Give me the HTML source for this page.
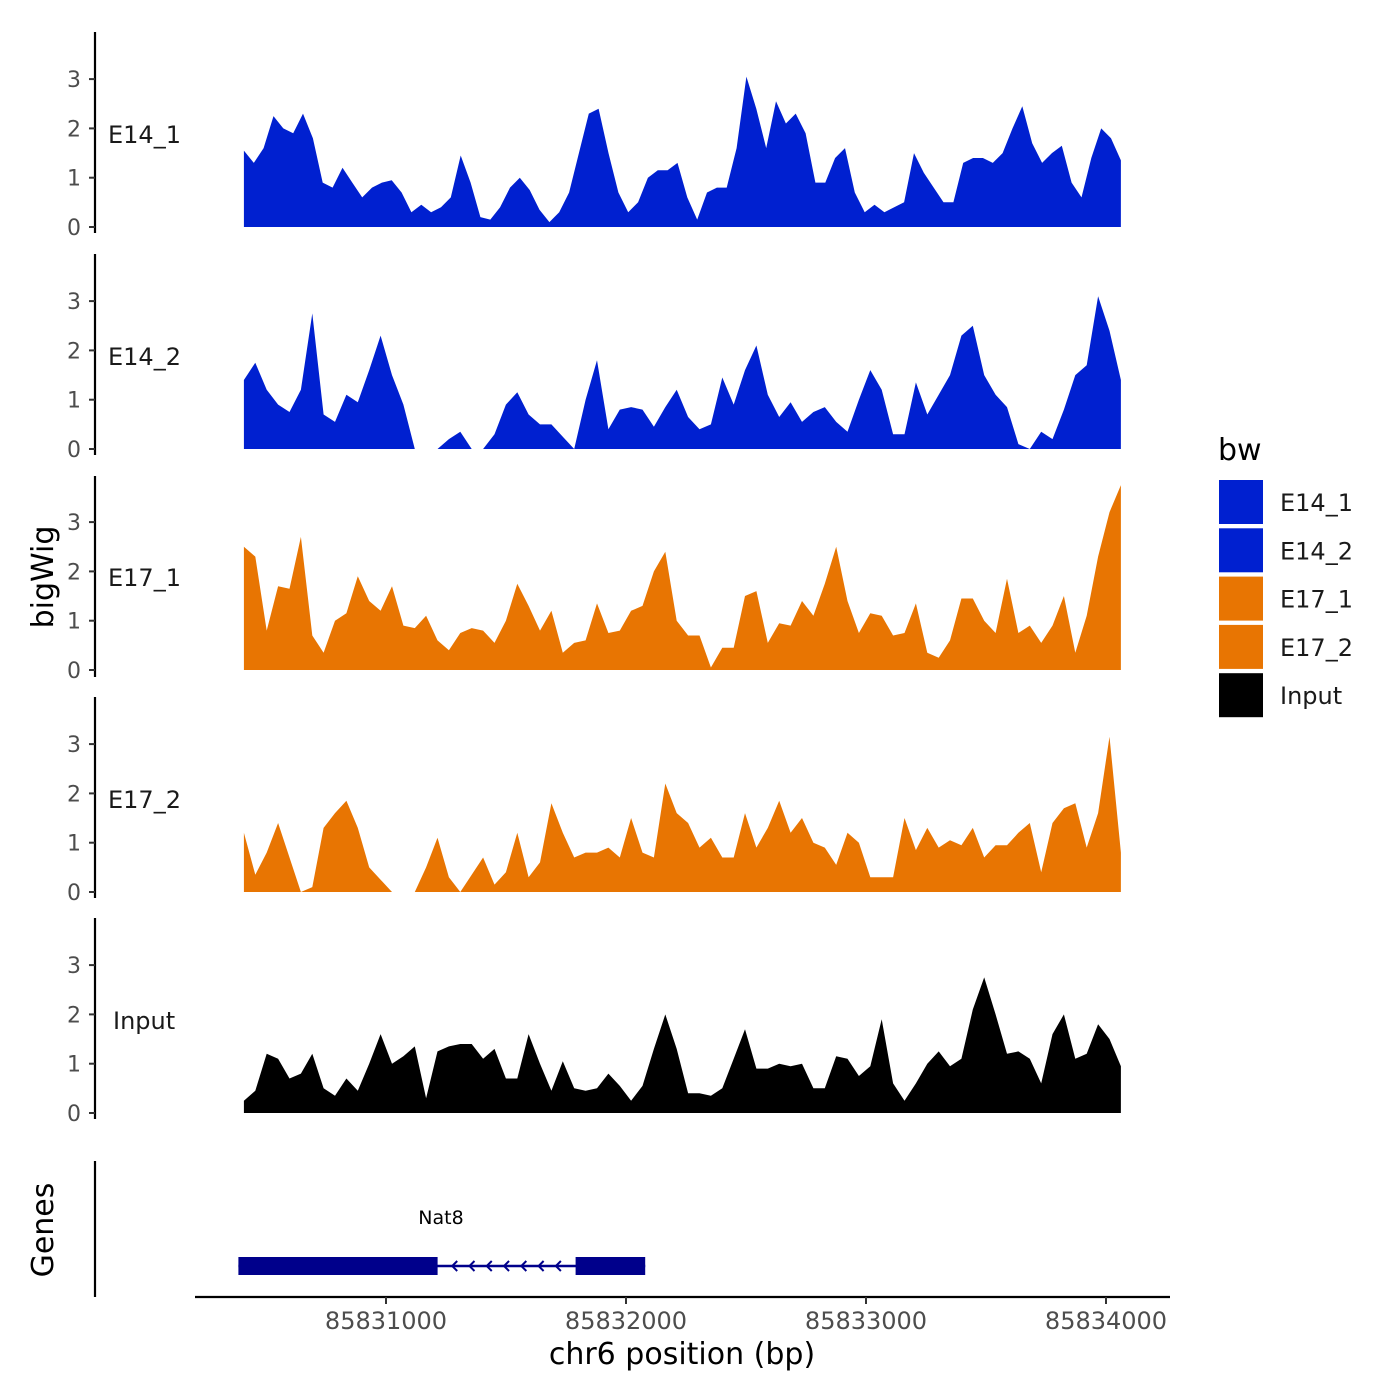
<!DOCTYPE html>
<html><head><meta charset="utf-8"><style>
body{margin:0;background:#fff}
svg{display:block;font-family:"DejaVu Sans","Liberation Sans",sans-serif}
</style></head><body>
<svg id="chart" width="1400" height="1400" viewBox="0 0 1400 1400"></svg>
<script>
const tracks = ["E14_1","E14_2","E17_1","E17_2","Input"];
const trackColors = ["#0020d0","#0020d0","#e87502","#e87502","#000000"];
const regionStart = 85830408;
const regionEnd = 85834062;
const xTicks = [85831000,85832000,85833000,85834000];
const yTicks = [0,1,2,3];
const e14_1 = [1.55,1.3,1.6,2.25,2.0,1.9,2.3,1.8,0.9,0.8,1.2,0.9,0.6,0.8,0.9,0.95,0.7,0.3,0.45,0.3,0.4,0.6,1.45,0.9,0.2,0.15,0.4,0.8,1.0,0.75,0.35,0.1,0.3,0.7,1.5,2.3,2.4,1.5,0.7,0.3,0.5,1.0,1.15,1.15,1.3,0.6,0.15,0.7,0.8,0.8,1.6,3.05,2.4,1.6,2.55,2.1,2.3,1.9,0.9,0.9,1.4,1.6,0.7,0.3,0.45,0.3,0.4,0.5,1.5,1.1,0.8,0.5,0.5,1.3,1.4,1.4,1.3,1.5,2.0,2.45,1.7,1.3,1.5,1.65,0.9,0.6,1.4,2.0,1.8,1.35];
const e14_2 = [1.4,1.75,1.2,0.9,0.75,1.2,2.75,0.7,0.55,1.1,0.95,1.6,2.3,1.5,0.9,0,0,0,0.2,0.35,0,0,0.3,0.9,1.15,0.7,0.5,0.5,0.25,0,1.0,1.8,0.4,0.8,0.85,0.8,0.45,0.85,1.2,0.65,0.4,0.5,1.45,0.9,1.6,2.1,1.1,0.65,0.95,0.55,0.75,0.85,0.55,0.35,1.0,1.6,1.2,0.3,0.3,1.35,0.7,1.1,1.5,2.3,2.5,1.5,1.1,0.85,0.1,0,0.35,0.2,0.8,1.5,1.7,3.1,2.4,1.4];
const e17_1 = [2.5,2.3,0.8,1.7,1.65,2.7,0.7,0.35,1.0,1.15,1.9,1.4,1.2,1.7,0.9,0.85,1.1,0.6,0.4,0.75,0.85,0.8,0.55,1.0,1.75,1.3,0.8,1.2,0.35,0.55,0.6,1.35,0.75,0.8,1.2,1.3,2.0,2.4,1.0,0.7,0.7,0.05,0.45,0.45,1.5,1.6,0.55,0.95,0.9,1.4,1.1,1.75,2.5,1.4,0.75,1.15,1.1,0.7,0.75,1.35,0.35,0.25,0.6,1.45,1.45,1.0,0.75,1.85,0.75,0.9,0.55,0.9,1.5,0.35,1.1,2.3,3.2,3.75];
const e17_2 = [1.2,0.35,0.8,1.4,0.7,0,0.1,1.3,1.6,1.85,1.3,0.5,0.25,0,0,0,0.5,1.1,0.3,0,0.35,0.7,0.15,0.4,1.2,0.3,0.6,1.8,1.2,0.7,0.8,0.8,0.9,0.7,1.5,0.8,0.7,2.2,1.6,1.4,0.9,1.1,0.7,0.7,1.6,0.9,1.3,1.85,1.2,1.5,1.0,0.9,0.55,1.2,1.0,0.3,0.3,0.3,1.5,0.85,1.3,0.9,1.05,0.95,1.3,0.7,0.95,0.95,1.2,1.4,0.4,1.4,1.7,1.8,0.9,1.6,3.15,0.8];
const input = [0.25,0.45,1.2,1.1,0.7,0.8,1.2,0.5,0.35,0.7,0.45,1.0,1.6,1.0,1.15,1.35,0.3,1.25,1.35,1.4,1.4,1.1,1.3,0.7,0.7,1.6,1.0,0.45,1.05,0.5,0.45,0.5,0.8,0.55,0.25,0.55,1.3,2.0,1.3,0.4,0.4,0.35,0.5,1.1,1.7,0.9,0.9,1.0,0.95,1.0,0.5,0.5,1.15,1.1,0.75,0.95,1.9,0.6,0.25,0.6,1.0,1.25,0.95,1.1,2.1,2.75,2.0,1.2,1.25,1.1,0.6,1.6,2.0,1.1,1.2,1.8,1.5,0.95];
const seriesValues = [e14_1,e14_2,e17_1,e17_2,input];
const geneName = "Nat8";
const geneExons = [[85830385,85831215],[85831790,85832080]];
const geneSpan = [85830385,85832080];

const NS="http://www.w3.org/2000/svg";
const svg=document.getElementById('chart');
function mk(tag,attrs,parent){const e=document.createElementNS(NS,tag);for(const k in attrs)e.setAttribute(k,attrs[k]);(parent||svg).appendChild(e);return e;}
function xScale(bp){return 386+(bp-85831000)*0.24;}
const unit=49.3;
const zeros=[227,449,670,892,1113];
const panelTop=[32,254,476,697,918];

tracks.forEach((t,i)=>{
  const g=mk('g',{});
  
  
  const z=zeros[i];
  const vals=seriesValues[i];
  const n=vals.length;
  let d='M'+xScale(regionStart)+','+z;
  vals.forEach((v,k)=>{const bp=regionStart+(regionEnd-regionStart)*k/(n-1);d+=' L'+xScale(bp).toFixed(1)+','+(z-v*unit).toFixed(1);});
  d+=' L'+xScale(regionEnd)+','+z+' Z';
  const p=mk('path',{d:d,fill:trackColors[i]},g);
  
  
  const ax=mk('line',{x1:95,x2:95,y1:panelTop[i],y2:panelTop[i]+201,stroke:'#000','stroke-width':2.2},g);
  
  
  yTicks.forEach(v=>{
    const y=z-v*unit;
    mk('line',{x1:89,x2:95,y1:y,y2:y,stroke:'#333','stroke-width':2},g);
    const tx=mk('text',{x:81,y:y+8,'text-anchor':'end','font-size':22,fill:'#4d4d4d'},g);
    tx.textContent=v;
    
    
  });
  const lb=mk('text',{x:t==='Input'?113:108,y:z-84,'font-size':24,fill:'#1a1a1a'},g);
  lb.textContent=t;
  
  
});

const yt=mk('text',{x:0,y:0,transform:'translate(53,577) rotate(-90)','text-anchor':'middle','font-size':30,fill:'#000'});
yt.textContent='bigWig';


const gt=mk('text',{x:0,y:0,transform:'translate(53,1230) rotate(-90)','text-anchor':'middle','font-size':30,fill:'#000'});
gt.textContent='Genes';


const gl=mk('line',{x1:95,x2:95,y1:1161,y2:1297,stroke:'#000','stroke-width':2.2});



const gg=mk('g',{});


mk('line',{x1:xScale(geneSpan[0]),x2:xScale(geneSpan[1]),y1:1266,y2:1266,stroke:'#00008b','stroke-width':2.5},gg);
geneExons.forEach(e=>{mk('rect',{x:xScale(e[0]),y:1257,width:xScale(e[1])-xScale(e[0]),height:18,fill:'#00008b'},gg);});
for(let bp=85831280;bp<85831760;bp+=72){const x=xScale(bp);mk('path',{d:`M${x+4},${1261} L${x-1},${1266} L${x+4},${1271}`,fill:'none',stroke:'#00008b','stroke-width':2},gg);}
const gn=mk('text',{x:441,y:1224,'text-anchor':'middle','font-size':19,fill:'#000'},gg);
gn.textContent=geneName;



const xa=mk('line',{x1:195,x2:1170,y1:1297,y2:1297,stroke:'#000','stroke-width':2.2});


xTicks.forEach(v=>{
  const x=xScale(v);
  mk('line',{x1:x,x2:x,y1:1297,y2:1304,stroke:'#333','stroke-width':2});
  const tx=mk('text',{x:x,y:1329,'text-anchor':'middle','font-size':24,fill:'#4d4d4d'});
  tx.textContent=v;
  
  
});
const xt=mk('text',{x:682,y:1364,'text-anchor':'middle','font-size':30,fill:'#000'});
xt.textContent='chr6 position (bp)';



const lg=mk('g',{});


const lt=mk('text',{x:1218,y:460,'font-size':30,fill:'#000'},lg);
lt.textContent='bw';


tracks.forEach((t,i)=>{
  const y=480+i*48.3;
  const r=mk('rect',{x:1219,y:y,width:44,height:44,fill:trackColors[i]},lg);
  
  
  const tx=mk('text',{x:1280,y:y+31,'font-size':24,fill:'#1a1a1a'},lg);
  tx.textContent=t;
  
  
});
</script>
</body></html>
